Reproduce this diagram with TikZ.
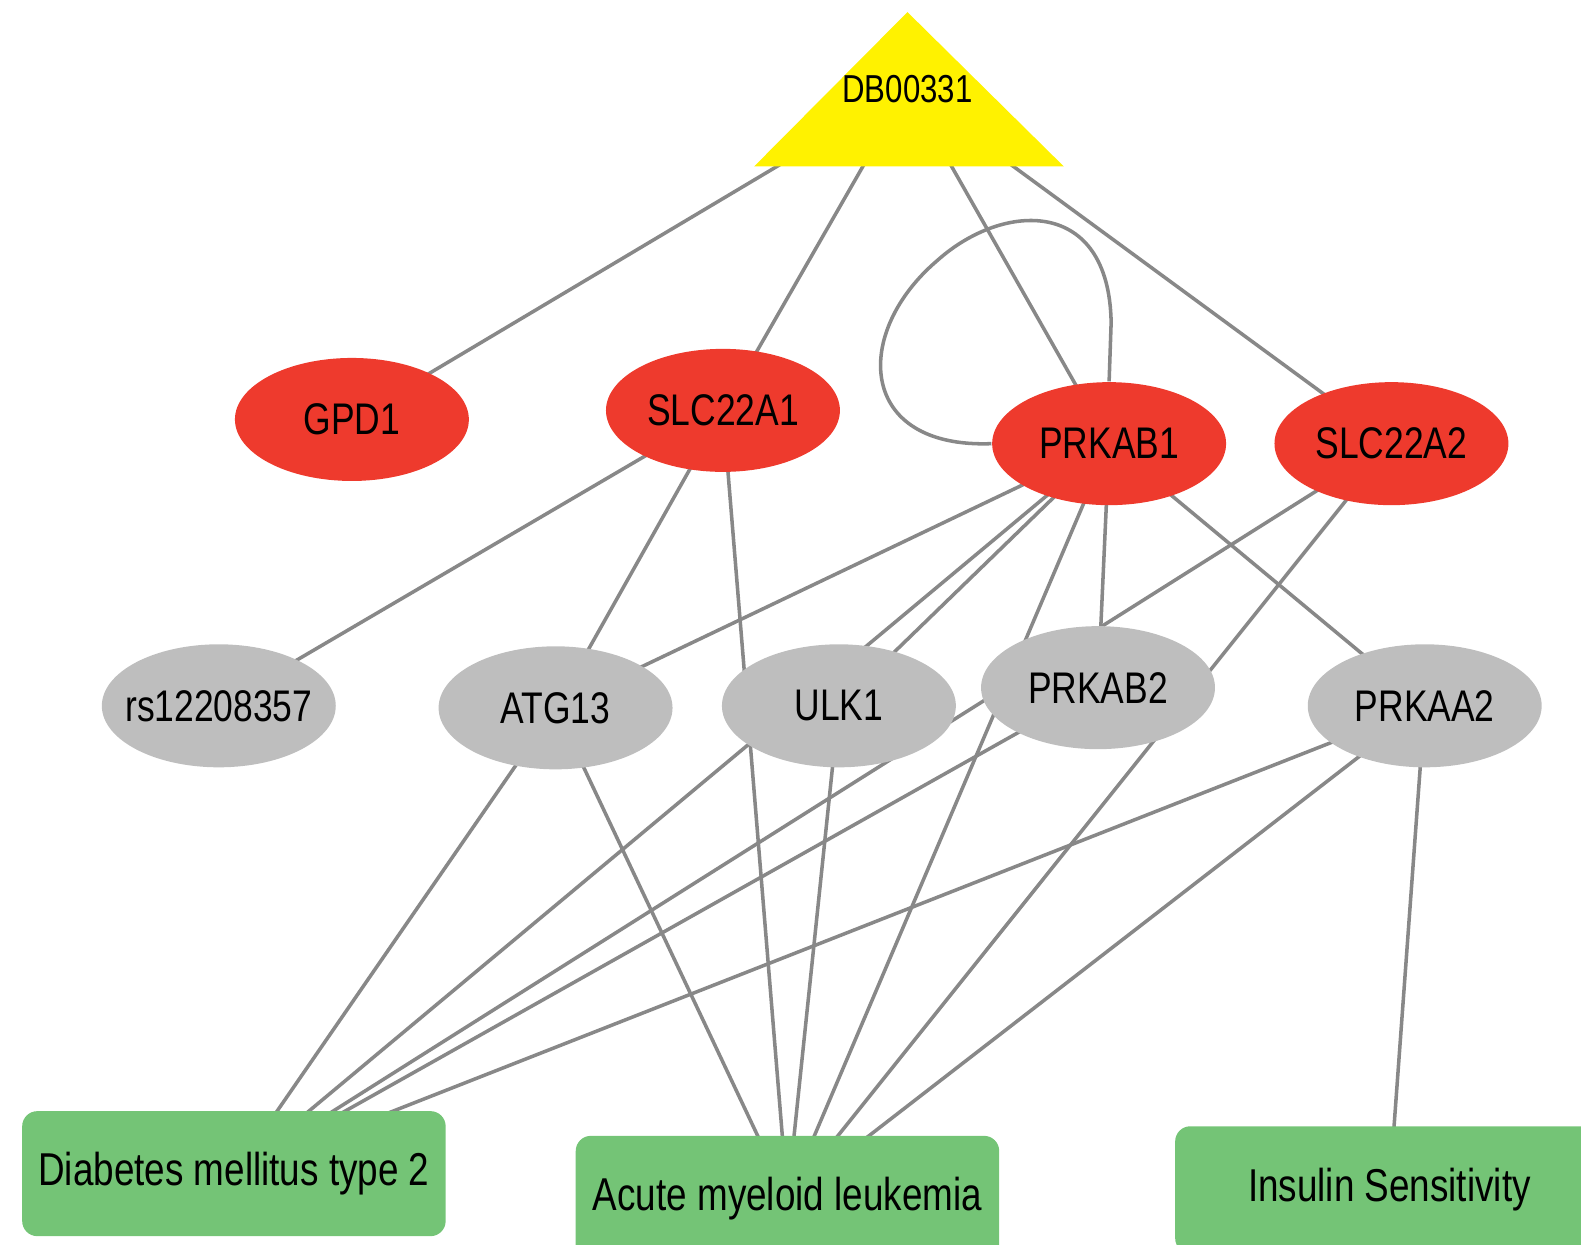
\documentclass[tikz,border=0pt]{standalone}
\usepackage{fontspec}
\setmainfont{Liberation Sans}[FakeStretch=0.8]
\usetikzlibrary{shapes.geometric,backgrounds}
\definecolor{genered}{RGB}{238,58,45}
\definecolor{snpgray}{RGB}{190,190,190}
\definecolor{diseasegreen}{RGB}{116,196,118}
\definecolor{edgegray}{RGB}{136,136,136}
\tikzset{
	gene/.style={ellipse, fill=genered, minimum width=23.2mm, minimum height=12.2mm, inner sep=0pt, font=\fontsize{12.5}{14}\selectfont},
	snp/.style={gene, fill=snpgray},
	disease/.style={rectangle, rounded corners=1.5mm, fill=diseasegreen, minimum width=42mm, minimum height=12.4mm, inner sep=0pt, font=\fontsize{13}{15}\selectfont},
	link/.style={draw=edgegray, line width=0.35mm},
}

\begin{document}
\begin{tikzpicture}[x=0.1mm, y=-0.1mm]
	\clip (0,0) rectangle (1568,1234);
	\fill[yellow] (748,165) -- (900,12) -- (1055,165) -- cycle;
	\node[font=\fontsize{11}{13}\selectfont] (db) at (900,88) {DB00331};
	\node[gene] (gpd1) at (349,416) {GPD1};
	\node[gene] (slc1) at (717,407) {SLC22A1};
	\node[gene] (prkab1) at (1100,440) {PRKAB1};
	\node[gene] (slc2) at (1380,440) {SLC22A2};
	\node[snp] (rs) at (217,700) {\makebox[0pt]{rs12208357}};
	\node[snp] (atg13) at (551,702) {ATG13};
	\node[snp] (ulk1) at (832,700) {ULK1};
	\node[snp] (prkab2) at (1089,682) {PRKAB2};
	\node[snp] (prkaa2) at (1413,700) {PRKAA2};
	\node[disease] (t2d) at (232,1164) {Diabetes mellitus type 2};
	\node[disease, minimum height=12.5mm] (aml) at (781,1189) {Acute myeloid leukemia};
	\node[disease, minimum width=42.5mm, minimum height=12.6mm] (ins) at (1378,1180) {Insulin Sensitivity};
	\begin{pgfonlayer}{background}
		\draw[link] (db.center) -- (gpd1.center);
		\draw[link] (db.center) -- (slc1.center);
		\draw[link] (db.center) -- (prkab1.center);
		\draw[link] (db.center) -- (slc2.center);
		\draw[link] (slc1.center) -- (rs.center);
		\draw[link] (slc1.center) -- (atg13.center);
		\draw[link] (slc1.center) -- (aml.center);
		\draw[link] (prkab1.center) -- (atg13.center);
		\draw[link] (prkab1.center) -- (ulk1.center);
		\draw[link] (prkab1.center) -- (t2d.center);
		\draw[link] (prkab1.center) -- (aml.center);
		\draw[link] (prkab1.center) -- (prkab2.center);
		\draw[link] (prkab1.center) -- (prkaa2.center);
		\draw[link] (prkab1.west) .. controls (850,445) and (845,330) .. (930,258) .. controls (995,200) and (1100,195) .. (1102,320) -- (prkab1.north);
		\draw[link] (slc2.center) -- (t2d.center);
		\draw[link] (slc2.center) -- (aml.center);
		\draw[link] (atg13.center) -- (t2d.center);
		\draw[link] (atg13.center) -- (aml.center);
		\draw[link] (ulk1.center) -- (aml.center);
		\draw[link] (prkab2.center) -- (t2d.center);
		\draw[link] (prkaa2.center) -- (t2d.center);
		\draw[link] (prkaa2.center) -- (aml.center);
		\draw[link] (prkaa2.center) -- (ins.center);
	\end{pgfonlayer}
\end{tikzpicture}
\end{document}
